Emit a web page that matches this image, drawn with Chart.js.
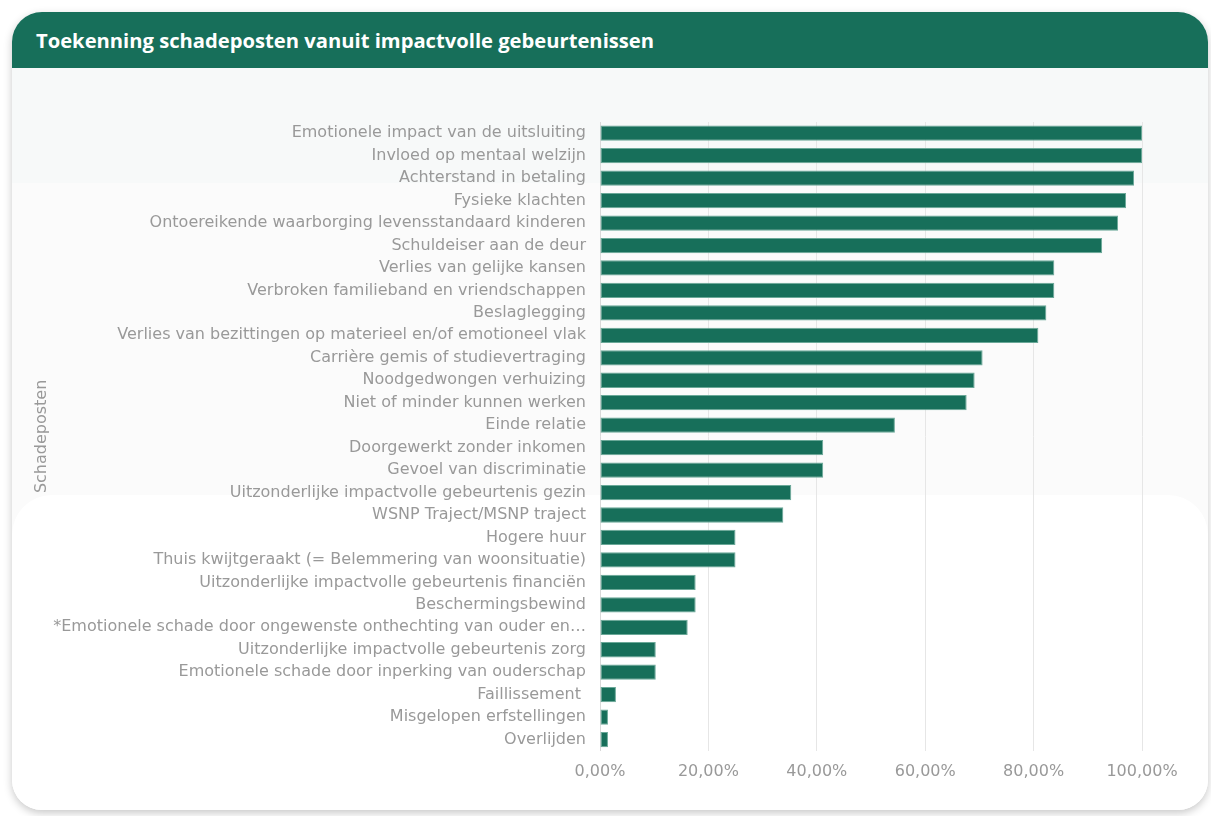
<!DOCTYPE html>
<html>
<head>
<meta charset="utf-8">
<script src="https://cdn.jsdelivr.net/npm/chart.js@4"></script>
<style>
  body { margin: 0; background: #ffffff; width: 1211px; height: 816px; overflow: hidden; position: relative; }
  #card { position: absolute; left: 12px; top: 12px; width: 1196px; height: 798px; background: #ffffff;
          border-radius: 30px; box-shadow: 0 3px 9px rgba(0,0,0,0.22); overflow: hidden; }
  #header { position: absolute; left: 0; top: 0; width: 100%; height: 56px; background: #176f5a; }
  #header h1 { margin: 0; position: absolute; left: 24px; top: 14px; color: #ffffff;
               font-family: "Open Sans", sans-serif; font-weight: 700; font-size: 20.2px; }
  #band1 { position: absolute; left: 0; top: 56px; width: 100%; height: 115px; background: #f7f9f9; }
  #band2 { position: absolute; left: 0; top: 171px; width: 100%; height: 350px; background: #fbfbfb; }
  #band3 { position: absolute; left: 0; top: 483px; width: 100%; height: 400px; background: #ffffff;
           border-radius: 40px 40px 0 0; }
  #wrap { position: absolute; left: 0; top: 56px; width: 1196px; height: 740px; }
</style>
</head>
<body>
<div id="card">
  <div id="header"><h1>Toekenning schadeposten vanuit impactvolle gebeurtenissen</h1></div>
  <div id="band1"></div>
  <div id="band2"></div>
  <div id="band3"></div>
  <div id="wrap"><canvas id="chart" width="1196" height="740"></canvas></div>
</div>
<script>
var categories = [
    'Emotionele impact van de uitsluiting',
    'Invloed op mentaal welzijn',
    'Achterstand in betaling',
    'Fysieke klachten',
    'Ontoereikende waarborging levensstandaard kinderen',
    'Schuldeiser aan de deur',
    'Verlies van gelijke kansen',
    'Verbroken familieband en vriendschappen',
    'Beslaglegging',
    'Verlies van bezittingen op materieel en/of emotioneel vlak',
    'Carrière gemis of studievertraging',
    'Noodgedwongen verhuizing',
    'Niet of minder kunnen werken',
    'Einde relatie',
    'Doorgewerkt zonder inkomen',
    'Gevoel van discriminatie',
    'Uitzonderlijke impactvolle gebeurtenis gezin',
    'WSNP Traject/MSNP traject',
    'Hogere huur',
    'Thuis kwijtgeraakt (= Belemmering van woonsituatie)',
    'Uitzonderlijke impactvolle gebeurtenis financiën',
    'Beschermingsbewind',
    '*Emotionele schade door ongewenste onthechting van ouder en…',
    'Uitzonderlijke impactvolle gebeurtenis zorg',
    'Emotionele schade door inperking van ouderschap',
    'Faillissement ',
    'Misgelopen erfstellingen',
    'Overlijden'
];

var percentages = [
    100.00, 100.00, 98.53, 97.06, 95.59, 92.65, 83.82, 83.82, 82.35, 80.88,
    70.59, 69.12, 67.65, 54.41, 41.18, 41.18, 35.29, 33.82, 25.00, 25.00,
    17.65, 17.65, 16.18, 10.29, 10.29, 2.94, 1.47, 1.47
];

var xTicks = [0, 20, 40, 60, 80, 100];

var barColor = '#176f5a';
var textColor = '#999999';
var fontFamily = 'DejaVu Sans';

var ctx = document.getElementById('chart').getContext('2d');

var chart = new Chart(ctx, {
    type: 'bar',
    data: {
        labels: categories,
        datasets: [{
            label: 'Toekenning',
            data: percentages,
            backgroundColor: barColor,
            borderColor: '#6aa898',
            borderWidth: 1,
            borderSkipped: false,
            barPercentage: 0.68,
            categoryPercentage: 1.0
        }]
    },
    options: {
        indexAxis: 'y',
        responsive: false,
        animation: false,
        layout: {
            padding: { top: 54, right: 66, bottom: 16, left: 0 }
        },
        plugins: {
            legend: { display: false },
            tooltip: { enabled: false }
        },
        scales: {
            x: {
                min: 0,
                max: 100,
                afterBuildTicks: function(scale) {
                    scale.ticks = xTicks.map(function(v) { return { value: v }; });
                },
                grid: {
                    color: '#e6e6e6',
                    drawTicks: false
                },
                border: { display: false },
                ticks: {
                    padding: 11,
                    color: textColor,
                    font: { family: fontFamily, size: 16 },
                    callback: function(value) {
                        return value.toFixed(2).replace('.', ',') + '%';
                    }
                }
            },
            y: {
                afterFit: function(scale) {
                    scale.width = 588;
                },
                grid: { display: false, drawTicks: false },
                border: { display: true, color: '#d9d9d9', width: 1 },
                ticks: {
                    padding: 14,
                    autoSkip: false,
                    color: textColor,
                    font: { family: fontFamily, size: 16 }
                },
                title: {
                    display: true,
                    text: 'Schadeposten',
                    color: textColor,
                    font: { family: fontFamily, size: 16 },
                    padding: { top: 20, bottom: 0 }
                }
            }
        }
    }
});
</script>
</body>
</html>
